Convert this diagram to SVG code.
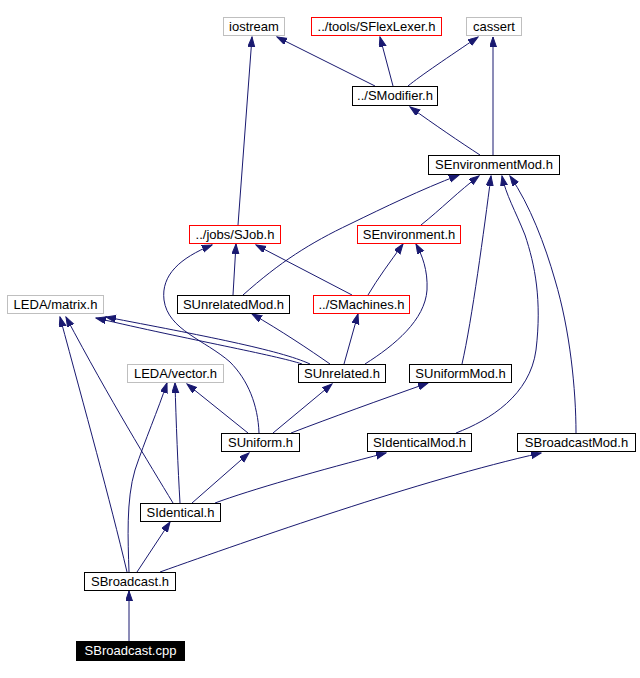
<svg xmlns="http://www.w3.org/2000/svg" width="640" height="678" viewBox="0 0 640 678">
<style>
.n rect{fill:#fff;stroke:#000;stroke-width:1}
.n.g rect{stroke:#bfbfbf}
.n.r rect{stroke:#ff0000}
.n.m rect{fill:#000}
.n text{font-family:"Liberation Sans",Arial,sans-serif;font-size:13px;fill:#000;text-anchor:middle}
.n.m text{fill:#fff}
#edges path{fill:none;stroke:#191970;stroke-width:1;marker-end:url(#ah)}
</style>
<defs>
<marker id="ah" markerUnits="userSpaceOnUse" markerWidth="11" markerHeight="8" refX="10" refY="3.5" orient="auto">
<path d="M0,0 L10,3.5 L0,7 z" fill="#191970" stroke="#191970" stroke-width="1"/>
</marker>
</defs>
<rect width="640" height="678" fill="#fff"/>
<g id="edges">
<path d="M375,86 L277,37"/>
<path d="M393,86 L380,37"/>
<path d="M408,86 C420,76 450,56 478,37"/>
<path d="M480,155 C460,142 435,125 410,107"/>
<path d="M493,155 L493,37"/>
<path d="M238,225 L252,37"/>
<path d="M421,225 C440,210 460,190 479,176"/>
<path d="M243,295 C280,262 310,243 350,224 C385,207 420,190 459,175"/>
<path d="M233,295 L236,244"/>
<path d="M352,295 L256,245"/>
<path d="M368,295 C378,278 390,262 403,244"/>
<path d="M330,364 C310,350 280,330 252,314"/>
<path d="M344,364 L358,314"/>
<path d="M365,364 C395,345 425,320 427,290 C428,270 422,255 416,244"/>
<path d="M259,433 C258,405 248,380 230,362 C205,340 168,330 164,300 C161,275 180,258 212,245"/>
<path d="M310,364 C280,350 200,335 106,317"/>
<path d="M302,364 C275,355 190,340 96,318"/>
<path d="M462,364 C472,320 484,230 491,176"/>
<path d="M456,433 C490,420 530,395 536,350 C542,300 535,265 525,235 C515,210 506,195 502,176"/>
<path d="M576,433 C576,390 570,330 555,280 C545,245 530,205 510,176"/>
<path d="M248,433 L187,384"/>
<path d="M273,433 L332,384"/>
<path d="M291,433 C330,418 380,400 428,383"/>
<path d="M192,503 L249,453"/>
<path d="M215,503 C250,490 320,470 386,453"/>
<path d="M180,503 C178,470 176,420 175,383"/>
<path d="M173,503 C150,465 110,400 66,317"/>
<path d="M127,572 C110,500 85,410 60,317"/>
<path d="M129,572 C128,540 126,500 135,470 C145,440 158,410 167,383"/>
<path d="M137,572 L170,522"/>
<path d="M160,572 C250,540 420,480 541,453"/>
<path d="M129,641 L129,591"/>
</g>
<g id="n_iostream" class="n g"><rect x="223.5" y="17.5" width="61" height="18"/><text x="254" y="31">iostream</text></g>
<g id="n_sflexlexer" class="n r"><rect x="311.5" y="17.5" width="130" height="18"/><text x="376.5" y="31">../tools/SFlexLexer.h</text></g>
<g id="n_cassert" class="n g"><rect x="466.5" y="17.5" width="55" height="18"/><text x="494" y="31">cassert</text></g>
<g id="n_smodifier" class="n"><rect x="352.5" y="86.5" width="85" height="19"/><text x="395" y="100">../SModifier.h</text></g>
<g id="n_senvmod" class="n"><rect x="428.5" y="155.5" width="131" height="19"/><text x="494" y="169">SEnvironmentMod.h</text></g>
<g id="n_sjob" class="n r"><rect x="189.5" y="225.5" width="91" height="18"/><text x="235" y="239">../jobs/SJob.h</text></g>
<g id="n_senv" class="n r"><rect x="357.5" y="225.5" width="103" height="18"/><text x="409" y="239">SEnvironment.h</text></g>
<g id="n_matrix" class="n g"><rect x="7.5" y="295.5" width="96" height="18"/><text x="55.5" y="309">LEDA/matrix.h</text></g>
<g id="n_sunrelmod" class="n"><rect x="177.5" y="295.5" width="112" height="18"/><text x="233.5" y="309">SUnrelatedMod.h</text></g>
<g id="n_smachines" class="n r"><rect x="313.5" y="295.5" width="96" height="18"/><text x="361.5" y="309">../SMachines.h</text></g>
<g id="n_vector" class="n g"><rect x="127.5" y="364.5" width="96" height="18"/><text x="175.5" y="378">LEDA/vector.h</text></g>
<g id="n_sunrel" class="n"><rect x="298.5" y="364.5" width="87" height="18"/><text x="342" y="378">SUnrelated.h</text></g>
<g id="n_suniformmod" class="n"><rect x="409.5" y="364.5" width="102" height="18"/><text x="460.5" y="378">SUniformMod.h</text></g>
<g id="n_suniform" class="n"><rect x="221.5" y="433.5" width="78" height="18"/><text x="260.5" y="447">SUniform.h</text></g>
<g id="n_sidentmod" class="n"><rect x="367.5" y="433.5" width="104" height="18"/><text x="419.5" y="447">SIdenticalMod.h</text></g>
<g id="n_sbcastmod" class="n"><rect x="517.5" y="433.5" width="118" height="18"/><text x="576.5" y="447">SBroadcastMod.h</text></g>
<g id="n_sident" class="n"><rect x="140.5" y="503.5" width="80" height="18"/><text x="180.5" y="517">SIdentical.h</text></g>
<g id="n_sbcast" class="n"><rect x="84.5" y="572.5" width="91" height="18"/><text x="130" y="586">SBroadcast.h</text></g>
<g id="n_sbcastcpp" class="n m"><rect x="76.5" y="641.5" width="108" height="19"/><text x="130.5" y="655">SBroadcast.cpp</text></g>
</svg>
